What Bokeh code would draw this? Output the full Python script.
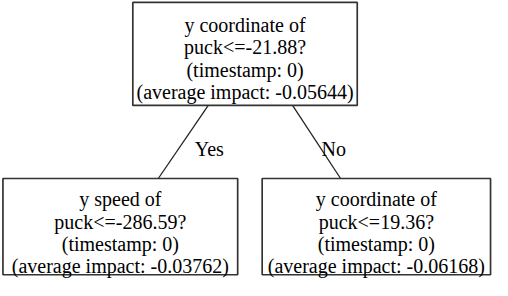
from bokeh.plotting import figure
from bokeh.models import Range1d
from bokeh.core.properties import value
from bokeh.embed import file_html
from bokeh.resources import INLINE

# ---- data ----
node_features = ["y coordinate of", "y speed of", "y coordinate of"]
node_objects = ["puck", "puck", "puck"]
node_thresholds = [-21.88, -286.59, 19.36]
node_timestamps = [0, 0, 0]
node_impacts = [-0.05644, -0.03762, -0.06168]
edge_labels = ["Yes", "No"]

# ---- layout (reference pixel coordinates, y downwards) ----
box_left = [140, 7.5, 272]
box_right = [369, 247, 505]
box_top = [5, 188, 188]
box_bottom = [112, 288, 288]
first_baseline = [28.5, 209.5, 209.5]
line_step = 23.3
edge_x0 = [217, 303]
edge_y0 = [112, 112]
edge_x1 = [166, 352]
edge_y1 = [188, 188]
edge_lx = [218, 345]
edge_ly = [157, 157]

FONT = value("Liberation Serif")

p = figure(width=492, height=280, output_backend="svg", toolbar_location=None,
           x_range=Range1d(5, 507), y_range=Range1d(294, 3), min_border=0)
p.title.visible = False
p.axis.visible = False
p.grid.visible = False
p.outline_line_color = None
p.background_fill_color = "white"
p.border_fill_color = "white"

p.segment(x0=edge_x0, y0=edge_y0, x1=edge_x1, y1=edge_y1,
          line_color="#222222", line_width=1.3)

p.quad(left=box_left, right=box_right, top=box_top, bottom=box_bottom,
       fill_color="white", line_color="#333333", line_width=1.7)

tx, ty, tt = [], [], []
for i, (f, o, t, ts, imp) in enumerate(zip(node_features, node_objects, node_thresholds,
                                           node_timestamps, node_impacts)):
    lines = [f, f"{o}<={t:.2f}?", f"(timestamp: {ts})", f"(average impact: {imp:.5f})"]
    cx = (box_left[i] + box_right[i]) / 2
    for k, s in enumerate(lines):
        tx.append(cx)
        ty.append(first_baseline[i] + k * line_step)
        tt.append(s)

p.text(x=tx, y=ty, text=tt, text_align="center", text_baseline="alphabetic",
       text_font=FONT, text_font_size="20px", text_color="black")

p.text(x=edge_lx, y=edge_ly, text=edge_labels, text_align="center",
       text_baseline="alphabetic", text_font=FONT,
       text_font_size="20px", text_color="black")

open("out.html", "w").write(file_html(p, INLINE))
